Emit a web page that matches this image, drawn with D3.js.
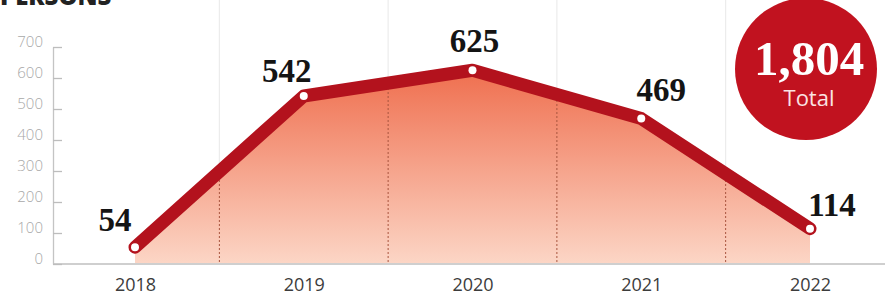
<!DOCTYPE html>
<html>
<head>
<meta charset="utf-8">
<style>
  body { margin: 0; background: #fff; }
  svg { display: block; }
  .ylab text { font-family: "Open Sans", sans-serif; font-size: 15px; fill: #a8a8a8; font-weight: 300; }
  .xlab text { font-family: "Open Sans", sans-serif; font-size: 18px; fill: #3c3c3c; }
  .val { font-family: "Liberation Serif", serif; font-weight: bold; font-size: 33px; fill: #141414; }
</style>
</head>
<body>
<svg width="885" height="295"></svg>
<script src="https://cdn.jsdelivr.net/npm/d3@7"></script>
<script>

// data
var years = ["2018", "2019", "2020", "2021", "2022"];
var cases = [54, 542, 625, 469, 114];
var yTicks = [0, 100, 200, 300, 400, 500, 600, 700];
var total = "1,804";

// label nudges (layout only)
var labelDx = [-20, -17, 2, 20, 22];
var labelDy = [-16, -14, -18, -18, -13];

var svg = d3.select("svg"),
    width = +svg.attr("width"),
    height = +svg.attr("height");

var x = d3.scalePoint().domain(years).range([135, 810]);
var y = d3.scaleLinear().domain([0, 700]).range([264, 47]);

var pts = years.map(function(d, i) { return { year: d, v: cases[i] }; });

var defs = svg.append("defs");
var grad = defs.append("linearGradient")
    .attr("id", "fillgrad")
    .attr("gradientUnits", "userSpaceOnUse")
    .attr("x1", 0).attr("x2", 0)
    .attr("y1", y(625)).attr("y2", y(0));
grad.append("stop").attr("offset", 0).attr("stop-color", "#ef6f4f");
grad.append("stop").attr("offset", 1).attr("stop-color", "#fcd6c6");

var area = d3.area()
    .x(function(d) { return x(d.year); })
    .y0(y(0))
    .y1(function(d) { return y(d.v); });

defs.append("clipPath").attr("id", "areaclip")
  .append("path").attr("d", area(pts));

// heading, cut off at the top as in the source
svg.append("text")
    .attr("x", 0).attr("y", 5)
    .style("font-family", "'Open Sans', sans-serif")
    .style("font-weight", "800")
    .style("font-size", "24px")
    .style("fill", "#222")
    .text("PERSONS");

// grid between years
var mids = years.slice(1).map(function(d, i) { return (x(years[i]) + x(d)) / 2; });

svg.append("g").selectAll("line")
  .data(mids)
  .enter().append("line")
    .attr("x1", function(d) { return d; })
    .attr("x2", function(d) { return d; })
    .attr("y1", 0)
    .attr("y2", y(0))
    .attr("stroke", "#ececec")
    .attr("stroke-width", 1.2);

svg.append("path")
    .attr("d", area(pts))
    .attr("fill", "url(#fillgrad)");

svg.append("g").attr("clip-path", "url(#areaclip)")
  .selectAll("line")
  .data(mids)
  .enter().append("line")
    .attr("x1", function(d) { return d; })
    .attr("x2", function(d) { return d; })
    .attr("y1", 0)
    .attr("y2", y(0))
    .attr("stroke", "#a8553f")
    .attr("stroke-width", 1)
    .attr("stroke-dasharray", "2,2");

// baseline
svg.append("line")
    .attr("x1", 53).attr("x2", width)
    .attr("y1", y(0)).attr("y2", y(0))
    .attr("stroke", "#cfcfcf")
    .attr("stroke-width", 2);

// y axis
var yAxis = svg.append("g")
    .attr("class", "ylab")
    .attr("transform", "translate(53,0)")
    .call(d3.axisLeft(y).tickValues(yTicks).tickSizeInner(-9).tickSizeOuter(0).tickPadding(10));
yAxis.select(".domain").attr("stroke", "#c4c4c4").attr("stroke-width", 1.3);
yAxis.selectAll(".tick line").attr("stroke", "#bdbdbd").attr("stroke-width", 1.3);
yAxis.selectAll(".tick text").attr("dy", "-0.05em");

// x axis labels
var xAxis = svg.append("g")
    .attr("class", "xlab")
    .attr("transform", "translate(0," + y(0) + ")")
    .call(d3.axisBottom(x).tickSize(0).tickPadding(14));
xAxis.select(".domain").remove();

// line
var line = d3.line()
    .x(function(d) { return x(d.year); })
    .y(function(d) { return y(d.v); });

svg.append("path")
    .attr("d", line(pts))
    .attr("fill", "none")
    .attr("stroke", "#b3121d")
    .attr("stroke-width", 13)
    .attr("stroke-linejoin", "round")
    .attr("stroke-linecap", "round");

svg.append("g").selectAll("circle")
  .data(pts)
  .enter().append("circle")
    .attr("cx", function(d) { return x(d.year); })
    .attr("cy", function(d) { return y(d.v); })
    .attr("r", 4)
    .attr("fill", "#fff");

// value labels
svg.append("g").selectAll("text")
  .data(pts)
  .enter().append("text")
    .attr("class", "val")
    .attr("text-anchor", "middle")
    .attr("x", function(d, i) { return x(d.year) + labelDx[i]; })
    .attr("y", function(d, i) { return y(d.v) + labelDy[i]; })
    .text(function(d) { return d.v; });

// total badge
var badge = svg.append("g").attr("transform", "translate(806,69)");
badge.append("circle")
    .attr("r", 71)
    .attr("fill", "#c1121f");
badge.append("text")
    .attr("text-anchor", "middle")
    .attr("x", 3).attr("y", 6)
    .style("font-family", "'Liberation Serif', serif")
    .style("font-weight", "bold")
    .style("font-size", "49px")
    .style("fill", "#fff")
    .text(total);
badge.append("text")
    .attr("text-anchor", "middle")
    .attr("x", 3).attr("y", 37)
    .style("font-family", "'Open Sans', sans-serif")
    .style("font-size", "22px")
    .style("fill", "#fbe3e3")
    .text("Total");

</script>
</body>
</html>
